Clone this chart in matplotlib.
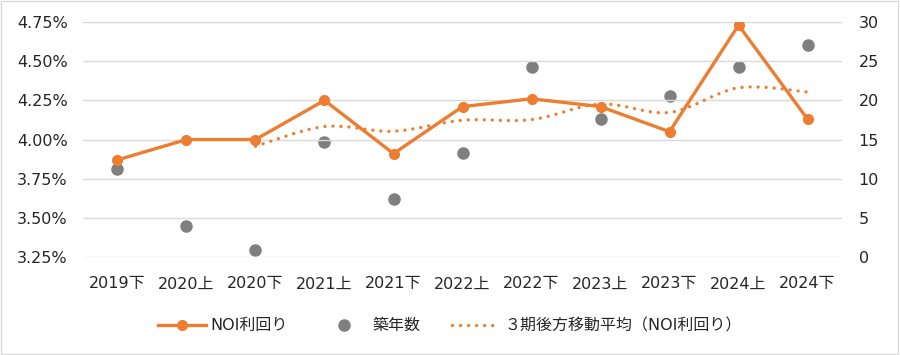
import matplotlib
matplotlib.use('Agg')
from matplotlib import pyplot as plt
from matplotlib.path import Path
from matplotlib.patches import PathPatch
from matplotlib.lines import Line2D
import numpy as np

plt.rcParams['font.family'] = ['DejaVu Sans', 'Noto Sans CJK JP']

# 期ラベル
periods = ['2019下', '2020上', '2020下', '2021上', '2021下', '2022上',
           '2022下', '2023上', '2023下', '2024上', '2024下']
# NOI利回り (%)
noi = [3.87, 4.00, 4.00, 4.25, 3.91, 4.21, 4.26, 4.21, 4.05, 4.73, 4.13]
# 築年数 (年)
age = [11.2, 3.9, 0.9, 14.7, 7.4, 13.3, 24.3, 17.6, 20.5, 24.2, 27.1]
# 3期後方移動平均 (2020下から)
ma_start = 2
ma = [3.957, 4.083, 4.053, 4.123, 4.127, 4.227, 4.173, 4.330, 4.303]

orange = '#ED7D31'
gray = '#7F7F7F'
txt = '#262626'
dots = (0, (0.01, 2.4))

fig = plt.figure(figsize=(9, 3.55), dpi=100)
fig.patches.append(plt.Rectangle((0.001, 0.002), 0.997, 0.995, transform=fig.transFigure,
                                 fill=False, edgecolor='#D9D9D9', linewidth=1))
ax = fig.add_axes([0.0922, 0.276, 0.8434, 0.662])
ax2 = ax.twinx()

x = np.arange(len(periods))

# 平滑化した移動平均線 (Excel風ベジェ)
xm = x[ma_start:ma_start + len(ma)].astype(float)
ym = np.array(ma)
verts = [(xm[0], ym[0])]
codes = [Path.MOVETO]
n = len(xm)
for i in range(n - 1):
    p0 = np.array([xm[max(i - 1, 0)], ym[max(i - 1, 0)]])
    p1 = np.array([xm[i], ym[i]])
    p2 = np.array([xm[i + 1], ym[i + 1]])
    p3 = np.array([xm[min(i + 2, n - 1)], ym[min(i + 2, n - 1)]])
    c1 = p1 + (p2 - p0) / 6
    c2 = p2 - (p3 - p1) / 6
    verts += [tuple(c1), tuple(c2), tuple(p2)]
    codes += [Path.CURVE4] * 3
ax.add_patch(PathPatch(Path(verts, codes), fill=False, edgecolor=orange,
                       linewidth=2.4, linestyle=dots, capstyle='round', zorder=2))

ax.plot(x, noi, color=orange, linewidth=2.4, marker='o', markersize=7, zorder=3)
ax2.scatter(x, age, s=64, color=gray, zorder=3)

ax.set_xlim(-0.5, len(periods) - 0.5)
ax.set_ylim(3.25, 4.75)
ax.set_yticks(np.arange(3.25, 4.76, 0.25))
ax.set_yticklabels([f'{v:.2f}%' for v in np.arange(3.25, 4.76, 0.25)])
ax2.set_ylim(0, 30)
ax2.set_yticks(range(0, 31, 5))
ax.set_xticks(x)
ax.set_xticklabels(periods)

ax.grid(axis='y', color='#D9D9D9', linewidth=1)
ax.set_axisbelow(True)
for a in (ax, ax2):
    for s in a.spines.values():
        s.set_visible(False)
    a.tick_params(length=0, labelsize=11.5, colors=txt)
ax.tick_params(axis='y', pad=11)
ax2.tick_params(axis='y', pad=12)
ax.tick_params(axis='x', pad=14)
ax2.set_zorder(ax.get_zorder() - 1)
ax.patch.set_visible(False)

handles = [
    Line2D([], [], color=orange, linewidth=2.4, marker='o', markersize=7),
    Line2D([], [], color=gray, linestyle='none', marker='o', markersize=8),
    Line2D([], [], color=orange, linewidth=2.4, linestyle=dots, dash_capstyle='round'),
]
labels = ['NOI利回り', '築年数', '３期後方移動平均（NOI利回り）']
fig.legend(handles, labels, loc='center', bbox_to_anchor=(0.5, 0.083), ncol=3,
           frameon=False, fontsize=11.5, handlelength=3.0, handletextpad=0.3,
           columnspacing=2.0, labelcolor=txt)

fig.savefig('out.png', dpi=100)
